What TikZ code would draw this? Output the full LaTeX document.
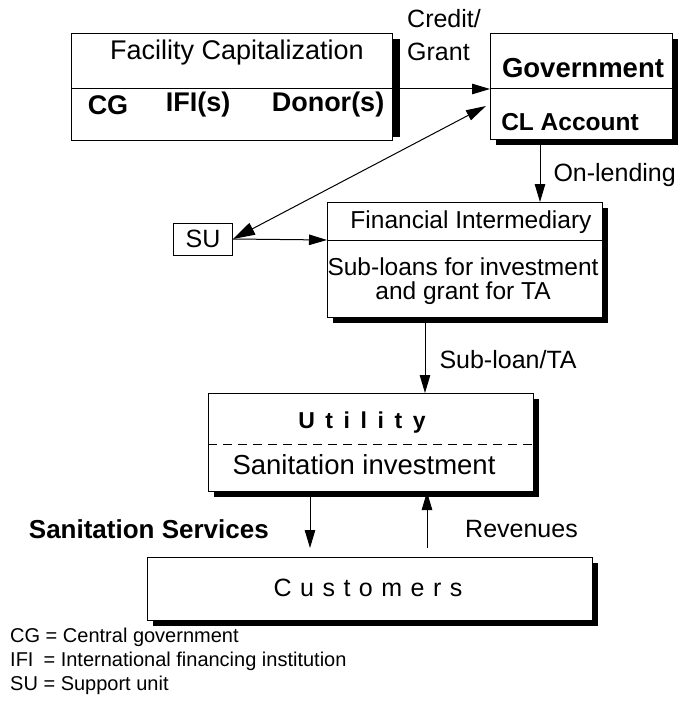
\documentclass[tikz,border=0pt]{standalone}
\usepackage{fontspec}
\setmainfont{Liberation Sans}
\usetikzlibrary{arrows.meta}
% thick shadow along the right and bottom edges of a box
\newcommand\boxshade[1]{%
  \fill ([yshift=-6pt]#1.north east) rectangle ([xshift=5pt,yshift=-5pt]#1.south east);
  \fill ([xshift=6pt]#1.south west) rectangle ([xshift=5pt,yshift=-5pt]#1.south east);}
\begin{document}
\begin{tikzpicture}[x=1pt,y=-1pt,
  box/.style={draw,line width=1pt,fill=white,anchor=north west,inner sep=0pt},
  tip/.style={-{Triangle[length=18pt,width=10.5pt]},line width=1pt},
  bigtip/.style={{Triangle[length=22pt,width=13pt]}-{Triangle[length=20pt,width=11pt]},line width=1pt},
  lbl/.style={inner sep=0pt,font=\fontsize{25}{28}\selectfont},
  bl/.style={inner sep=0pt,font=\fontsize{27}{28}\selectfont\bfseries}]
\useasboundingbox (0,0) rectangle (690,706);

% Facility capitalization
\node[box,minimum width=321pt,minimum height=107pt] (fac) at (71,33) {};
\fill ([yshift=-6pt]fac.north east) rectangle ([xshift=7pt,yshift=4pt]fac.south east);
\node[lbl,font=\fontsize{27}{28}\selectfont] (factitle) at (237,53) {Facility Capitalization};
\node[bl] (cg) at (108,105) {CG};
\node[bl] (ifi) at (198,105) {IFI(s)};
\node[bl] (donor) at (328,105) {Donor(s)};

% Government
\node[box,minimum width=182pt,minimum height=106pt] (gov) at (490,33) {};
\boxshade{gov}
\coordinate (govdiv) at (490,89);
\draw[line width=1pt] (govdiv) -- (govdiv -| gov.east);
\node[bl,font=\fontsize{27.5}{28}\selectfont\bfseries] (govt) at (583,68) {Government};
\node[bl,font=\fontsize{24.5}{28}\selectfont\bfseries] (cl) at (570,122) {CL Account};

% credit / grant flow
\coordinate (facdiv) at (71,89);
\draw[tip] (facdiv) -- (govdiv);
\node[lbl,anchor=north west,align=left,font=\fontsize{25}{33}\selectfont] (credit) at (407,9) {Credit/\\Grant};

% Financial intermediary
\node[box,minimum width=275pt,minimum height=115pt] (fi) at (327,202) {};
\boxshade{fi}
\coordinate (fidiv) at (327,240);
\draw[line width=1pt] (fidiv) -- (fidiv -| fi.east);
\node[lbl,font=\fontsize{24.5}{28}\selectfont] (fit) at (471,222) {Financial Intermediary};
\node[lbl,font=\fontsize{24.5}{24}\selectfont,align=center] (fib) at (463,281) {Sub-loans for investment\\and grant for TA};

\draw[tip] (gov.south -| 540,0) -- (fi.north -| 540,0) node[lbl,midway,anchor=west,xshift=13pt,yshift=-4pt] (onl) {On-lending};

% Support unit
\node[draw,line width=1pt,minimum width=59pt,minimum height=32pt,inner sep=0pt,font=\fontsize{25}{28}\selectfont] (su) at (203,239) {SU};
\draw[bigtip] (su.east) -- (486,106);
\draw[tip] (su.east) -- (fidiv);

% Utility
\node[box,minimum width=325pt,minimum height=98pt] (ut) at (208,393) {};
\boxshade{ut}
\draw[dash pattern=on 9pt off 6pt,line width=0.7pt] (208,444) -- (533,444);
\node[bl,font=\fontsize{23}{28}\selectfont\bfseries\addfontfeatures{LetterSpace=46}] (utt) at (362,423) {Utility};
\node[lbl,font=\fontsize{27.5}{28}\selectfont] (utb) at (364,465) {Sanitation investment};

\draw[tip] (fi.south -| 425,0) -- (ut.north -| 425,0) node[lbl,midway,anchor=west,xshift=14pt,yshift=-4pt] (sub) {Sub-loan/TA};

% Customers
\node[box,minimum width=445pt,minimum height=63pt] (cu) at (147,557) {};
\boxshade{cu}
\node[lbl,font=\fontsize{25}{28}\selectfont\addfontfeatures{LetterSpace=34}] (cut) at (368,588) {Customers};

\coordinate (svc) at (310,548);
\coordinate (rev) at (427,548);
\draw[tip] (ut.south -| svc) -- (svc);
\draw[tip] (rev) -- (ut.south -| rev);
\node[bl,anchor=east,font=\fontsize{26}{28}\selectfont\bfseries] (svct) at (269,529) {Sanitation Services};
\node[lbl,anchor=west,font=\fontsize{25}{28}\selectfont] (revt) at (465,529) {Revenues};

% abbreviations
\node[inner sep=0pt,anchor=north west,align=left,font=\fontsize{20}{24}\selectfont] (legend) at (10,628)
  {CG = Central government\\IFI\enspace= International financing institution\\SU = Support unit};
\end{tikzpicture}
\end{document}
